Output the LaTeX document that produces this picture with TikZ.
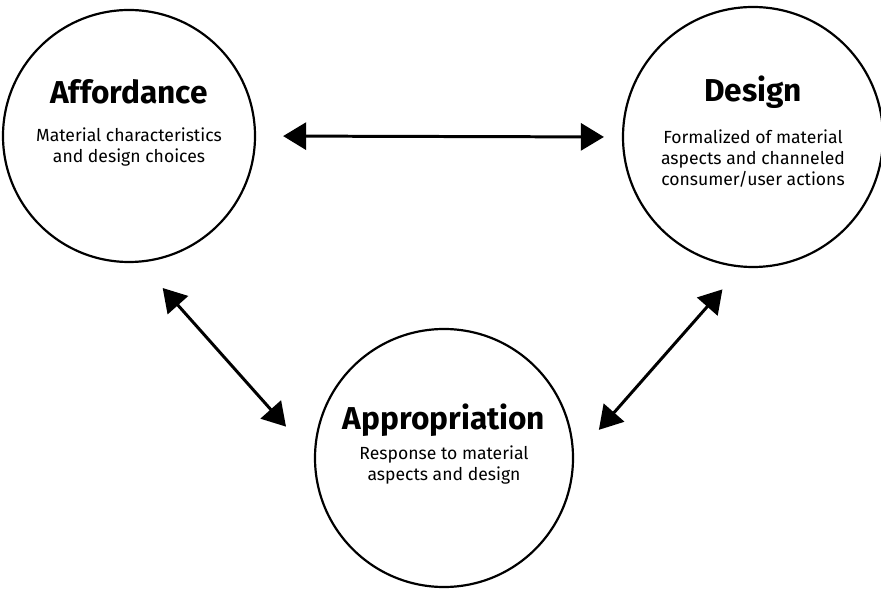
\documentclass[tikz,border=0pt]{standalone}
\usepackage{fontspec}
\setmainfont{Fira Sans}
\usetikzlibrary{arrows.meta}

\tikzset{
  bubble/.style={circle, draw, line width=1.25pt, inner sep=0pt},
  headline/.style={anchor=base, inner sep=0pt, font=\bfseries\fontsize{18}{20}\selectfont},
  blurb/.style={anchor=north, align=center, inner sep=0pt, font=\fontsize{10}{12}\selectfont},
  link/.style={{Triangle[length=0.46cm,width=0.54cm]}-{Triangle[length=0.46cm,width=0.54cm]}, line width=1.7pt}
}

\begin{document}
\begin{tikzpicture}
\useasboundingbox (0,0) rectangle (17.62,11.78);

% Circles
\node[bubble, minimum size=5.04cm] (aff) at (2.58, 9.06) {};
\node[bubble, minimum size=5.2cm]  (des) at (15.06, 9.04) {};
\node[bubble, minimum size=5.16cm] (app) at (8.88, 2.62) {};

% Texts
\node[headline] (affT) at ([yshift=0.64cm]aff.center) {Affordance};
\node[blurb]    (affS) at ([yshift=0.18cm]aff.center) {Material characteristics\\and design choices};

\node[headline] (desT) at ([yshift=0.70cm]des.center) {Design};
\node[blurb]    (desS) at ([yshift=0.16cm]des.center) {Formalized of material\\aspects and channeled\\consumer/user actions};

\node[headline] (appT) at ([yshift=0.56cm]app.center) {Appropriation};
\node[blurb]    (appS) at ([yshift=0.26cm]app.center) {Response to material\\aspects and design};

% Arrows
\draw[link, shorten <=0.54cm, shorten >=0.36cm] (aff.east) -- (des.west);  % affordance <-> design
\draw[link, shorten <=0.68cm, shorten >=0.84cm] (aff.-85) -- (app.west);   % affordance <-> appropriation
\draw[link, shorten <=0.58cm, shorten >=0.75cm] (des.-95) -- (app.east);   % design <-> appropriation
\end{tikzpicture}
\end{document}
